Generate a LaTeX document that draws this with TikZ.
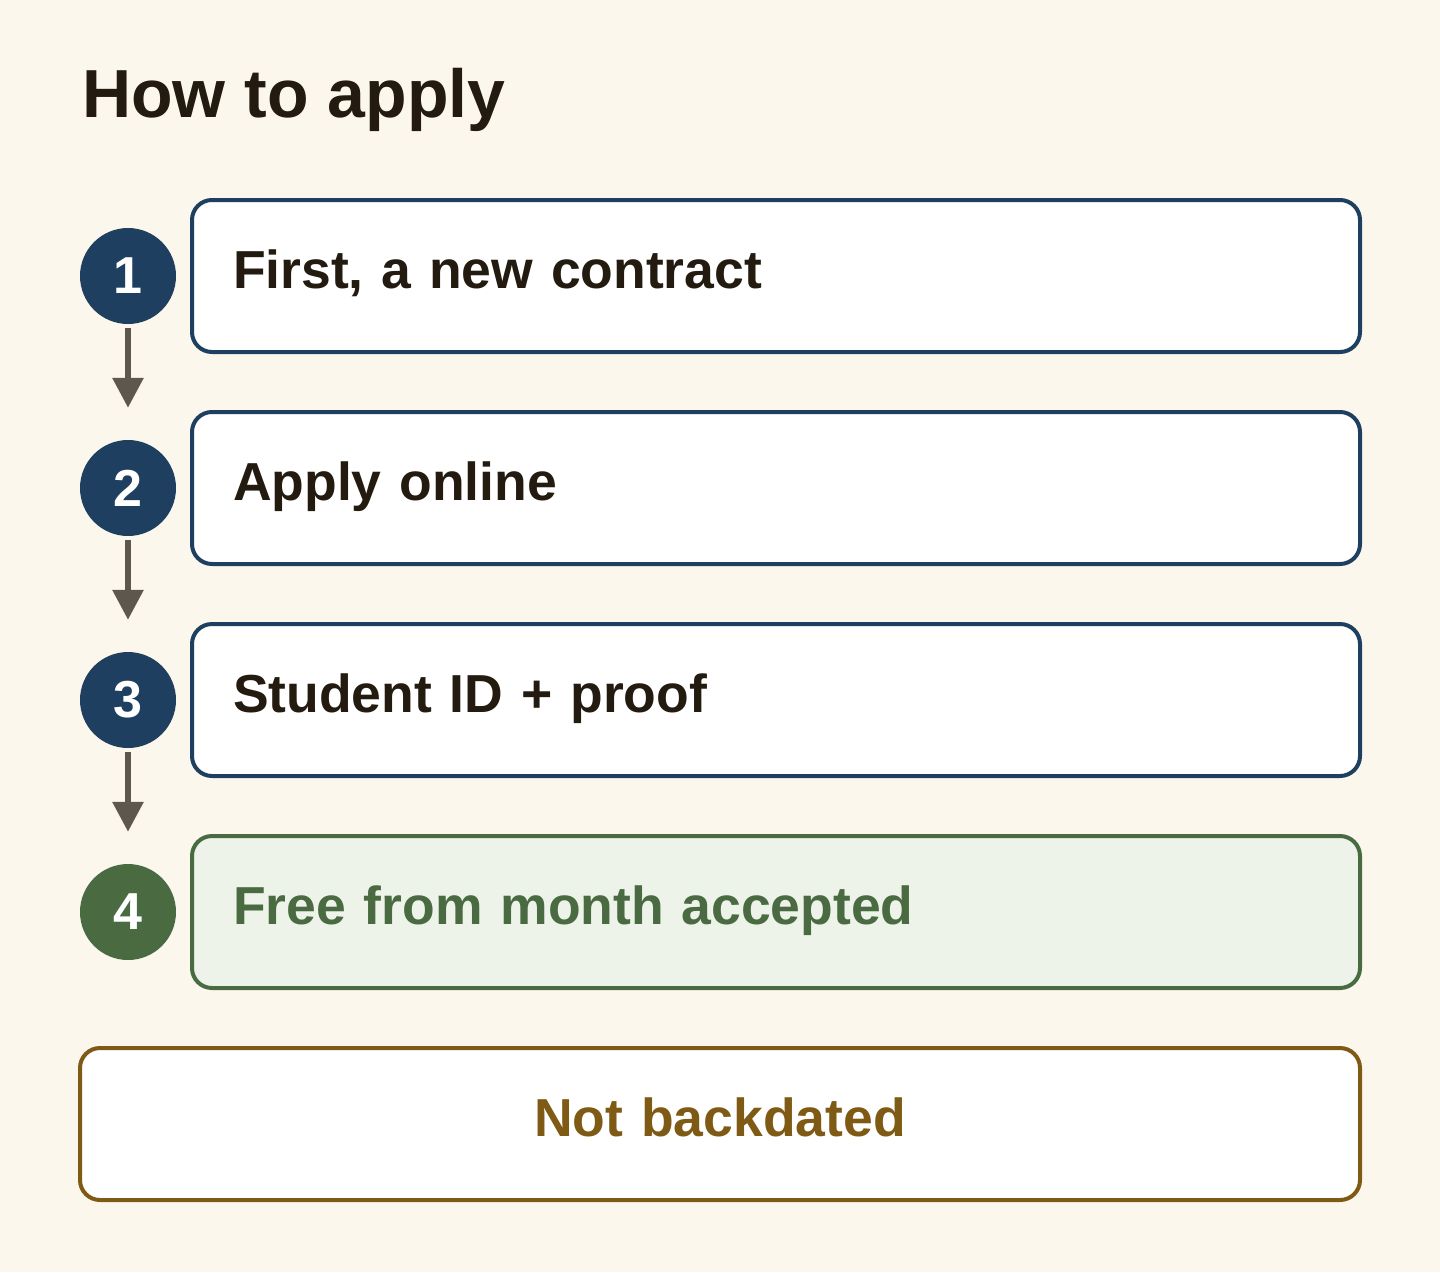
\documentclass[tikz,border=0pt]{standalone}
\usepackage{fontspec}
\setmainfont{Liberation Sans}
\usetikzlibrary{arrows.meta}
\definecolor{paper}{HTML}{FCF7EC}
\definecolor{navy}{HTML}{1E3F60}
\definecolor{leaf}{HTML}{4A6B42}
\definecolor{leaffill}{HTML}{EEF3EA}
\definecolor{ink}{HTML}{231A10}
\definecolor{umber}{HTML}{7F5A14}
\definecolor{stem}{HTML}{5E574D}
\tikzset{
  stepbox/.style={draw=navy, fill=white, line width=4pt, rounded corners=20pt,
    minimum height=152pt, inner xsep=41pt, inner ysep=0pt, text width=1086pt,
    text height=36pt, text depth=12pt,
    outer sep=0pt, align=left, anchor=west, text=ink,
    font=\fontsize{53.5}{60}\selectfont\bfseries},
  stepdot/.style={circle, fill=navy, minimum size=96pt, inner sep=0pt,
    text=white, font=\fontsize{52}{58}\selectfont\bfseries},
  flow/.style={stem, line width=6pt, -{Triangle[width=30pt,length=30pt]},
    shorten <=4pt, shorten >=32pt}
}
\begin{document}
\begin{tikzpicture}[x=1pt,y=-1pt]
\fill [paper] (0,0) rectangle (1440,1272);
\useasboundingbox (0,0) rectangle (1440,1272);
\node [anchor=base west, inner sep=0pt, text=ink, font=\fontsize{68}{74}\selectfont\bfseries] (title) at (82,117) {How to apply};
% steps
\node [stepdot] (c1) at (128,276) {1};
\node [stepdot] (c2) at (128,488) {2};
\node [stepdot] (c3) at (128,700) {3};
\node [stepdot, fill=leaf] (c4) at (128,912) {4};
\node [stepbox] (b1) at (192,276) {First, a new contract};
\node [stepbox] (b2) at (192,488) {Apply online};
\node [stepbox] (b3) at (192,700) {Student ID + proof};
\node [stepbox, draw=leaf, fill=leaffill, text=leaf] (b4) at (192,912) {Free from month accepted};
\draw [flow] (c1) -- (c2);
\draw [flow] (c2) -- (c3);
\draw [flow] (c3) -- (c4);
% note
\node [stepbox, draw=umber, text=umber, align=center, text width=1198pt, anchor=center] (note) at (720,1124) {Not backdated};
\end{tikzpicture}
\end{document}
